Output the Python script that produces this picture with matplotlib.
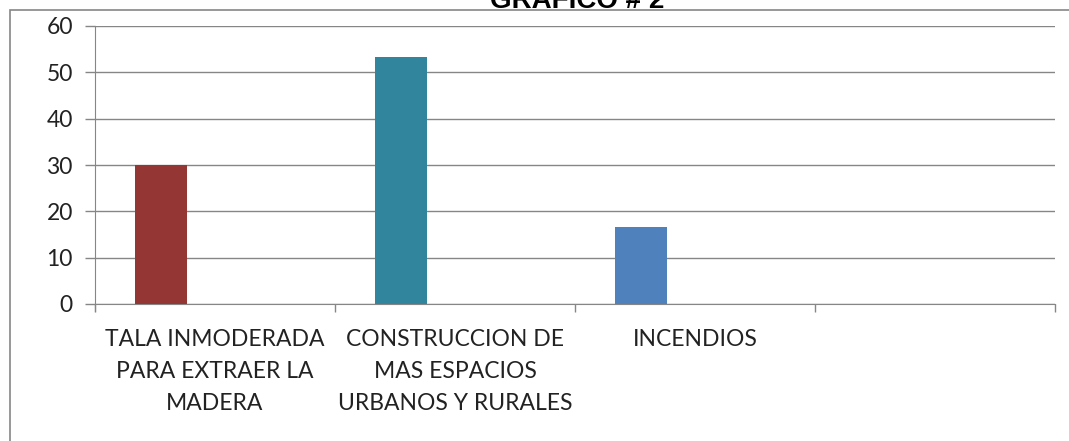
import matplotlib.pyplot as plt
from matplotlib.patches import Rectangle

plt.rcParams['font.family'] = ['Lato', 'DejaVu Sans']

# data
categories = ["TALA INMODERADA\nPARA EXTRAER LA\nMADERA",
              "CONSTRUCCION DE\nMAS ESPACIOS\nURBANOS Y RURALES",
              "INCENDIOS",
              ""]
values = [30, 53.3, 16.7]
colors = ["#943634", "#31859C", "#4F81BD"]
yticks = [0, 10, 20, 30, 40, 50, 60]

fig = plt.figure(figsize=(10.69, 4.41), dpi=100)
fig.patches.append(Rectangle((10 / 1069, -0.1), 1.2, 1 - 10 / 441 + 0.1,
                             transform=fig.transFigure, fill=False,
                             edgecolor="#868686", linewidth=1.2))
fig.text(577 / 1069, 1 - 8 / 441, "GRAFICO # 2", ha="center", va="baseline",
         fontsize=20, fontweight="bold", color="black",
         family=["Liberation Sans", "DejaVu Sans"])

ax = fig.add_axes([95 / 1069, 1 - 304 / 441, (1055 - 95) / 1069, (304 - 26) / 441])

width = 0.217
pos = [i - 0.225 for i in range(len(values))]
ax.bar(pos, values, width=width, color=colors, zorder=3)

ax.set_xlim(-0.5, len(categories) - 0.5)
ax.set_ylim(0, 60)
ax.set_yticks(yticks)
ax.yaxis.grid(True, color="#868686", linewidth=1)
ax.set_axisbelow(True)

ax.set_xticks([i + 0.5 for i in range(-1, len(categories))])
ax.set_xticklabels([])
ax.set_xticks(range(len(categories)), minor=True)
ax.set_xticklabels(categories, minor=True, fontsize=16.5, linespacing=1.65,
                   va="top", ha="center", color="#222222")
ax.tick_params(axis="x", which="major", length=6, color="#868686", width=1)
ax.tick_params(axis="x", which="minor", length=0, pad=18)
ax.tick_params(axis="y", length=7, color="#868686", width=1, labelsize=16.5,
               pad=9, labelcolor="#222222")

for s in ["top", "right"]:
    ax.spines[s].set_visible(False)
for s in ["left", "bottom"]:
    ax.spines[s].set_color("#868686")
ax.spines["left"].set_bounds(-1.6, 60)

fig.savefig("out.png", dpi=100)
